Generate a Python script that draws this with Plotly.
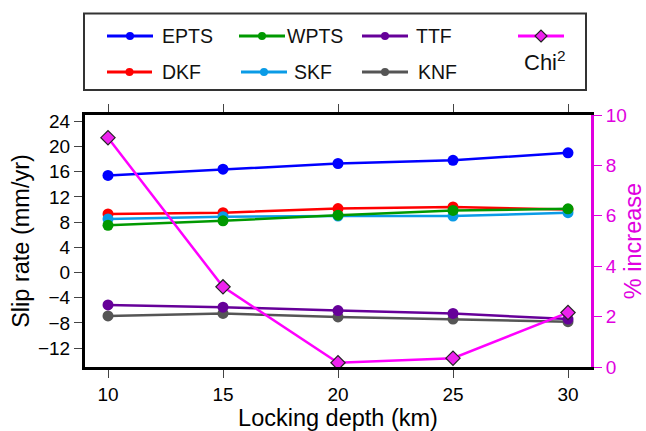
import plotly.graph_objects as go

depth = [10, 15, 20, 25, 30]
epts = [15.4, 16.4, 17.3, 17.8, 19.0]
dkf = [9.3, 9.5, 10.15, 10.4, 10.0]
wpts = [7.5, 8.2, 9.1, 9.85, 10.1]
skf = [8.5, 8.85, 8.95, 8.95, 9.5]
ttf = [-5.15, -5.5, -6.05, -6.5, -7.4]
knf = [-6.9, -6.5, -7.05, -7.4, -7.8]
chi2 = [9.1, 3.18, 0.17, 0.35, 2.16]

series = [
    ("EPTS", epts, "#0000ff"),
    ("DKF", dkf, "#ff0000"),
    ("SKF", skf, "#0a9be6"),
    ("WPTS", wpts, "#009900"),
    ("KNF", knf, "#555555"),
    ("TTF", ttf, "#660099"),
]
MAG = "#ff00ff"
AXMAG = "#e000e0"
DIAM = "#ee22ee"
FONT = "Liberation Sans, Arial, sans-serif"

fig = go.Figure()
for name, vals, col in series:
    fig.add_trace(go.Scatter(x=depth, y=vals, mode="lines+markers", name=name,
                             line=dict(color=col, width=2.5),
                             marker=dict(color=col, size=11), showlegend=False))
fig.add_trace(go.Scatter(x=depth, y=chi2, yaxis="y2", mode="lines+markers", name="Chi2",
                         line=dict(color=MAG, width=2.5),
                         marker=dict(symbol="diamond", color=DIAM, size=11,
                                     line=dict(color="#222222", width=1.2)),
                         showlegend=False))

fig.update_layout(
    width=646, height=431,
    margin=dict(l=85, r=55, t=115, b=64),
    paper_bgcolor="white", plot_bgcolor="white",
    font=dict(family=FONT, color="black", size=19),
    xaxis=dict(range=[9, 31], tickvals=depth, ticks="outside", ticklen=8, tickwidth=1.2,
               showline=True, linecolor="black", linewidth=3, mirror="ticks",
               showgrid=False, zeroline=False, automargin=False,
               title=dict(text="Locking depth (km)", font=dict(size=23.5), standoff=0),
               tickfont=dict(size=19)),
    yaxis=dict(range=[-15, 25], tickvals=list(range(-12, 25, 4)),
               ticktext=[str(v).replace("-", "\u2212") for v in range(-12, 25, 4)],
               ticks="outside", ticklen=8, tickwidth=1.2,
               showline=True, linecolor="black", linewidth=3,
               showgrid=False, zeroline=False, automargin=False,
               title=dict(text="Slip rate (mm/yr)", font=dict(size=23.5), standoff=2),
               tickfont=dict(size=19)),
    yaxis2=dict(range=[0, 10], tickvals=[0, 2, 4, 6, 8, 10], overlaying="y", side="right",
                ticks="outside", ticklen=8, tickwidth=1.2, tickcolor=AXMAG,
                showline=True, linecolor=AXMAG, linewidth=3,
                showgrid=False, zeroline=False, automargin=False,
                tickfont=dict(size=19, color=AXMAG),
                title=dict(text="% increase", font=dict(size=23.5, color=AXMAG), standoff=4)),
)

# manual legend
W, H = 506.0, 252.0
def px(x):
    return (x - 85) / W
def py(y):
    return (367 - y) / H

shapes = [dict(type="rect", xref="paper", yref="paper", x0=px(84), x1=px(586),
               y0=py(90), y1=py(13.5), line=dict(color="#333333", width=2), fillcolor="white")]
annots = []
entries = [
    ("EPTS", "#0000ff", 107, 153, 160, 36),
    ("WPTS", "#009900", 239, 285, 285, 36),
    ("TTF", "#660099", 362, 408, 414, 36),
    ("DKF", "#ff0000", 107, 152, 160, 72),
    ("SKF", "#0a9be6", 241, 287, 292, 72),
    ("KNF", "#555555", 362, 408, 416, 72),
]
for name, col, x0, x1, tx, y in entries:
    shapes.append(dict(type="line", xref="paper", yref="paper", x0=px(x0), x1=px(x1),
                       y0=py(y), y1=py(y), line=dict(color=col, width=3)))
    cx = (x0 + x1) / 2
    shapes.append(dict(type="circle", xref="paper", yref="paper", xsizemode="pixel",
                       ysizemode="pixel", xanchor=px(cx), yanchor=py(y),
                       x0=-4, x1=4, y0=-4, y1=4, fillcolor=col, line=dict(color=col, width=0)))
    annots.append(dict(xref="paper", yref="paper", x=px(tx), y=py(y), text=name,
                       showarrow=False, xanchor="left", yanchor="middle",
                       font=dict(size=19.5, color="#111111")))
# Chi2 entry
shapes.append(dict(type="line", xref="paper", yref="paper", x0=px(518), x1=px(564),
                   y0=py(36), y1=py(36), line=dict(color=MAG, width=3)))
shapes.append(dict(type="path", xref="paper", yref="paper", xsizemode="pixel",
                   ysizemode="pixel", xanchor=px(541), yanchor=py(36),
                   path="M 0 -6 L 6 0 L 0 6 L -6 0 Z", fillcolor=DIAM,
                   line=dict(color="#222222", width=1.2)))
annots.append(dict(xref="paper", yref="paper", x=px(545), y=py(61), text="Chi<sup>2</sup>",
                   showarrow=False, xanchor="center", yanchor="middle",
                   font=dict(size=22, color="#111111")))

fig.update_layout(shapes=shapes, annotations=annots)
fig.write_html("out.html")
